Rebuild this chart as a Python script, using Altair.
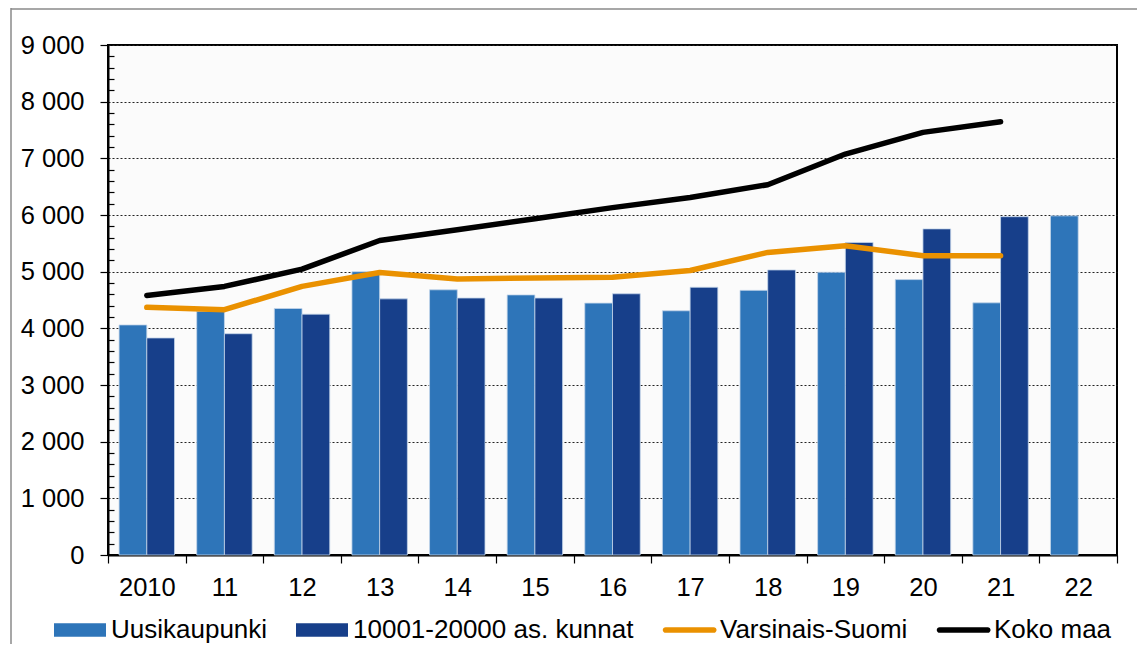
import altair as alt
import pandas as pd

years = ["2010", "11", "12", "13", "14", "15", "16", "17", "18", "19", "20", "21", "22"]

uusikaupunki = [4060, 4300, 4350, 5000, 4680, 4590, 4445, 4310, 4670, 4990, 4860, 4450, 5985]
kunnat = [3830, 3905, 4250, 4520, 4535, 4535, 4610, 4725, 5030, 5515, 5755, 5970, None]
varsinais_suomi = [4370, 4330, 4740, 4985, 4870, 4890, 4900, 5020, 5340, 5458, 5282, 5282, None]
koko_maa = [4580, 4740, 5045, 5550, 5740, 5935, 6130, 6310, 6535, 7076, 7458, 7647, None]

S_U = "Uusikaupunki"
S_K = "10001-20000 as. kunnat"
S_V = "Varsinais-Suomi"
S_M = "Koko maa"
series_names = [S_U, S_K, S_V, S_M]
series_colors = ["#2E75B9", "#173F8A", "#EA9100", "#000000"]

major_ticks = list(range(0, 9001, 1000))
minor_ticks = [v for v in range(0, 9001, 200) if v % 1000 != 0]

FONT = "Liberation Sans"


def long(rows):
    out = []
    for name, vals in rows:
        for y, v in zip(years, vals):
            if v is not None:
                out.append({"year": y, "series": name, "value": v})
    return pd.DataFrame(out)


bar_df = long([(S_U, uusikaupunki), (S_K, kunnat)])
line_df = long([(S_V, varsinais_suomi), (S_M, koko_maa)])
all_df = pd.concat([bar_df, line_df], ignore_index=True)

x_scale = alt.Scale(domain=years, paddingInner=0, paddingOuter=0)
y_scale = alt.Scale(domain=[0, 9000], nice=False, zero=True)

rect_path = "M-1,-0.26H1V0.26H-1Z"
line_path = "M-0.9,-0.11H0.95A0.11,0.11 0 0 1 0.95,0.11H-0.9A0.11,0.11 0 0 1 -0.9,-0.11Z"

x_axis = alt.Axis(
    title=None, labelAngle=0, labelFontSize=25.5, labelFont=FONT, labelColor="black",
    labelPadding=12, tickBand="extent", tickSize=8, tickColor="black", tickWidth=1.2,
    domainColor="black", domainWidth=2, grid=False,
)
y_axis = alt.Axis(
    title=None, values=major_ticks,
    labelExpr="datum.value == 0 ? '0' : floor(datum.value / 1000) + ' 000'",
    labelFontSize=25.5, labelFont=FONT, labelColor="black", labelPadding=16,
    tickSize=8, tickColor="black", tickWidth=1.2, domainColor="black", domainWidth=2,
    grid=True, gridColor="#222222", gridDash=[2, 2], gridWidth=1,
)
minor_axis = alt.Axis(
    title=None, orient="left", values=minor_ticks, labels=False, domain=False,
    grid=False, ticks=True, tickSize=6, tickColor="black", tickWidth=1.2, offset=-6,
)

X = alt.X("year:N", sort=years, scale=x_scale, title=None)
Y = alt.Y("value:Q", scale=y_scale, title=None)

bars = alt.Chart(bar_df).mark_bar(stroke="#c4d5ea", strokeWidth=0.8).encode(
    x=alt.X("year:N", sort=years, scale=x_scale, axis=x_axis, title=None),
    xOffset=alt.XOffset("series:N", scale=alt.Scale(domain=[S_U, S_K], paddingOuter=0.4, paddingInner=0)),
    y=alt.Y("value:Q", scale=y_scale, axis=y_axis, title=None),
    fill=alt.Fill("series:N", scale=alt.Scale(domain=[S_U, S_K], range=series_colors[:2]), legend=None),
)

lines = alt.Chart(line_df).mark_line(strokeWidth=5.5, strokeCap="round", strokeJoin="round").encode(
    x=X,
    y=Y,
    stroke=alt.Stroke("series:N", scale=alt.Scale(domain=[S_V, S_M], range=series_colors[2:]), legend=None),
)

legend_def = alt.Legend(
    title=None, orient="none", legendX=-54, legendY=559, direction="horizontal",
    symbolSize=2704, symbolStrokeWidth=0, labelFontSize=26, labelFont=FONT,
    labelColor="black", labelOffset=5, columnPadding=28, padding=0, labelLimit=0,
)

legend_layer = alt.Chart(all_df).mark_point(filled=True, opacity=1).encode(
    x=X,
    y=Y,
    color=alt.Color("series:N", scale=alt.Scale(domain=series_names, range=series_colors),
                    legend=legend_def, title=None),
    shape=alt.Shape("series:N", scale=alt.Scale(domain=series_names,
                    range=[rect_path, rect_path, line_path, line_path]),
                    legend=legend_def, title=None),
).transform_filter("false")

main = alt.layer(bars, lines, legend_layer)

minor_layer = alt.Chart(all_df).mark_point().encode(
    y=alt.Y("value:Q", scale=y_scale, axis=minor_axis, title=None),
).transform_filter("false")

frame_df = pd.DataFrame({"k": [0]})
frame_left = alt.Chart(frame_df).mark_rule(color="#8a8a8a", strokeWidth=1.5).encode(
    x=alt.value(-97), y=alt.value(-37), y2=alt.value(700)
)
frame_top = alt.Chart(frame_df).mark_rule(color="#8a8a8a", strokeWidth=1.5).encode(
    x=alt.value(-97), x2=alt.value(1200), y=alt.value(-36)
)

chart = alt.layer(
    main, minor_layer, frame_left, frame_top
).resolve_axis(y="independent").properties(
    width=1009, height=510,
    autosize=alt.AutoSizeParams(type="none"),
    padding={"left": 100, "top": 37, "right": 20, "bottom": 89},
    background="white",
).configure_view(fill="#FBFBFB", stroke="black", strokeWidth=2)

chart.save("out.html", embed_options={"renderer": "svg", "actions": False})
